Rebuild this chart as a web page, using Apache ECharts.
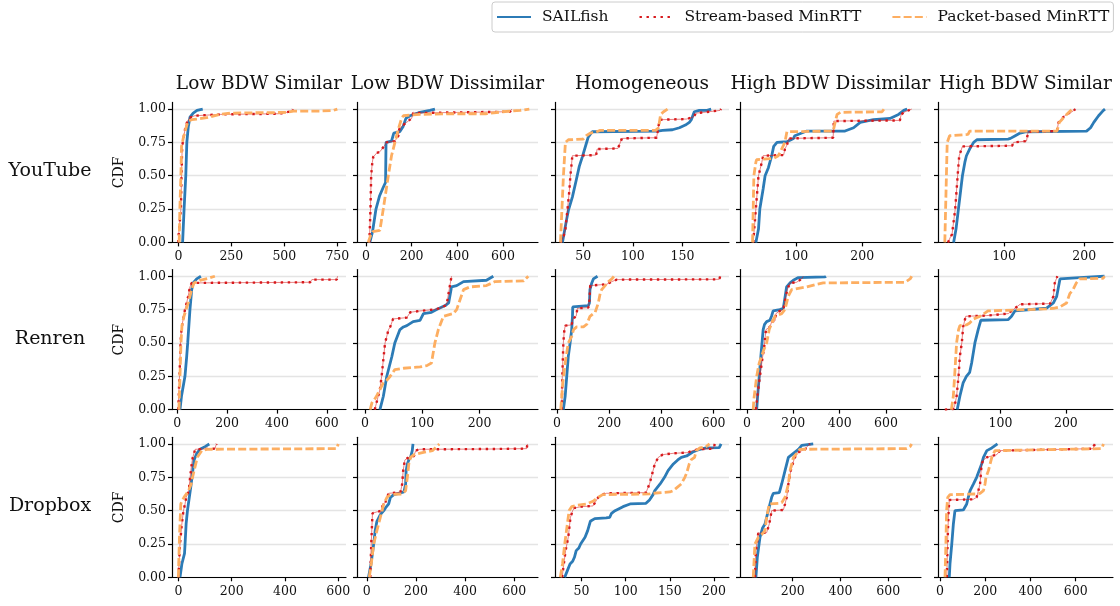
<!DOCTYPE html>
<html>
<head>
<meta charset="utf-8">
<script src="https://cdn.jsdelivr.net/npm/echarts/dist/echarts.min.js"></script>
<style>
html, body { margin: 0; padding: 0; background: #fff; }
#main { width: 1120px; height: 606px; }
</style>
</head>
<body>
<div id="main"></div>
<script>
var rowNames = ['YouTube', 'Renren', 'Dropbox'];
var colNames = ['Low BDW Similar', 'Low BDW Dissimilar', 'Homogeneous', 'High BDW Dissimilar', 'High BDW Similar'];
var seriesNames = ['SAILfish', 'Stream-based MinRTT', 'Packet-based MinRTT'];
var yTicks = [0, 0.25, 0.5, 0.75, 1.0];

// x tick labels, one list per panel
var youtubeTicks = [[0, 250, 500, 750], [0, 200, 400, 600], [50, 100, 150], [100, 200], [100, 200]];
var renrenTicks = [[0, 200, 400, 600], [0, 100, 200], [0, 200, 400, 600], [0, 200, 400, 600], [100, 200]];
var dropboxTicks = [[0, 200, 400, 600], [0, 200, 400, 600], [50, 100, 150, 200], [200, 400, 600], [0, 200, 400, 600]];

// x axis limits
var youtubeRange = [[-30, 791], [-39, 753], [21.5, 197], [15, 289], [17.5, 236]];
var renrenRange = [[-21, 677], [-14, 302], [-8, 659], [-30, 751], [4.6, 272]];
var dropboxRange = [[-24, 629], [-40, 697], [20, 217], [-20.5, 737], [-9, 765]];

// CDF curves, [value, cdf], one curve per panel
var youtubeSail = [
    [[20,0],[27,0.25],[35,0.5],[40,0.75],[47,0.87],[55,0.94],[70,0.97],[88,0.99],[115,1.0]],
    [[17,0],[29,0.08],[44,0.25],[60,0.35],[75,0.41],[86,0.45],[88,0.75],[112,0.76],[122,0.82],[148,0.83],[163,0.87],[175,0.93],[193,0.95],[236,0.975],[280,0.99],[302,1.0]],
    [[29,0],[33,0.165],[35,0.24],[39,0.34],[43,0.47],[46,0.57],[49,0.64],[53,0.74],[55,0.79],[59,0.83],[61,0.835],[125,0.835],[130,0.84],[140,0.845],[147,0.86],[153,0.88],[157,0.9],[159,0.92],[162,0.98],[167,0.99],[175,0.99],[179,1.0]],
    [[39,0],[43,0.1],[45,0.25],[50,0.4],[53,0.5],[58,0.56],[63,0.65],[66,0.72],[71,0.75],[86,0.755],[88,0.77],[96,0.78],[98,0.8],[116,0.835],[174,0.835],[187,0.86],[197,0.9],[217,0.92],[242,0.93],[255,0.96],[263,0.99],[268,1.0]],
    [[37,0],[40,0.1],[43,0.25],[46,0.4],[48,0.5],[51,0.6],[53,0.65],[57,0.7],[62,0.75],[66,0.77],[105,0.775],[108,0.78],[114,0.8],[120,0.82],[128,0.83],[203,0.835],[208,0.86],[212,0.9],[218,0.95],[224,0.99],[226,1.0]]
];
var youtubeStream = [
    [[0,0],[1,0.05],[12,0.25],[15,0.5],[18,0.72],[22,0.76],[35,0.88],[47,0.92],[60,0.94],[78,0.95],[200,0.96],[480,0.965],[482,0.98],[538,0.985],[540,1.0]],
    [[15,0],[20,0.25],[23,0.5],[28,0.6],[32,0.64],[47,0.67],[61,0.68],[79,0.72],[90,0.75],[127,0.76],[142,0.8],[146,0.85],[163,0.88],[178,0.9],[200,0.93],[207,0.97],[400,0.975],[631,0.98],[638,1.0]],
    [[27,0],[30,0.04],[32,0.1],[34,0.24],[36,0.39],[37,0.5],[38,0.57],[39,0.65],[63,0.655],[64,0.7],[85,0.705],[89,0.78],[124,0.785],[127,0.92],[154,0.925],[161,0.94],[164,0.97],[171,0.975],[188,0.99],[189,1.0]],
    [[35,0],[39,0.25],[43,0.5],[48,0.6],[50,0.65],[81,0.655],[83,0.7],[86,0.73],[89,0.78],[156,0.785],[157,0.91],[257,0.915],[259,0.96],[265,0.98],[275,1.0]],
    [[30,0],[33,0.04],[35,0.06],[39,0.25],[42,0.5],[44,0.65],[48,0.72],[110,0.725],[112,0.75],[128,0.76],[130,0.83],[166,0.835],[168,0.9],[174,0.94],[178,0.96],[185,0.98],[189,1.0]]
];
var youtubePacket = [
    [[4,0],[7,0.25],[12,0.5],[15,0.72],[23,0.78],[40,0.88],[47,0.91],[63,0.92],[86,0.925],[134,0.935],[197,0.96],[244,0.97],[511,0.975],[543,0.985],[668,0.985],[731,0.99],[750,1.0]],
    [[10,0],[20,0.05],[30,0.08],[61,0.09],[76,0.25],[98,0.5],[112,0.65],[127,0.75],[142,0.85],[156,0.93],[164,0.95],[193,0.955],[237,0.96],[383,0.965],[528,0.965],[600,0.98],[675,0.99],[715,1.0]],
    [[27,0],[30,0.5],[32,0.75],[35,0.77],[50,0.775],[53,0.8],[57,0.82],[62,0.825],[67,0.84],[123,0.84],[126,0.86],[128,0.96],[131,0.98],[135,1.0]],
    [[34,0],[36,0.5],[39,0.6],[40,0.62],[66,0.63],[73,0.65],[78,0.7],[83,0.75],[86,0.83],[156,0.835],[159,0.9],[162,0.96],[167,0.975],[230,0.98],[233,1.0]],
    [[26,0],[28,0.5],[29,0.75],[32,0.8],[55,0.81],[57,0.835],[166,0.835],[169,0.9],[172,0.92],[175,0.94],[180,0.97],[185,1.0]]
];

var renrenSail = [
    [[11,0],[17,0.1],[31,0.25],[38,0.4],[42,0.5],[51,0.75],[58,0.9],[64,0.95],[78,0.98],[95,1.0]],
    [[26,0],[32,0.1],[38,0.25],[47,0.4],[52,0.5],[61,0.6],[67,0.62],[73,0.63],[84,0.66],[96,0.67],[102,0.72],[116,0.73],[125,0.75],[140,0.78],[146,0.8],[151,0.92],[160,0.93],[172,0.96],[212,0.97],[224,1.0]],
    [[24,0],[31,0.1],[37,0.25],[43,0.4],[50,0.5],[56,0.6],[59,0.7],[60,0.77],[63,0.775],[120,0.78],[124,0.8],[126,0.9],[133,0.95],[139,0.98],[155,1.0]],
    [[42,0],[46,0.1],[53,0.25],[60,0.4],[70,0.6],[76,0.64],[85,0.66],[99,0.67],[106,0.7],[113,0.74],[142,0.75],[157,0.76],[165,0.85],[171,0.92],[186,0.95],[200,0.97],[222,0.99],[337,0.995],[341,1.0]],
    [[34,0],[38,0.1],[43,0.2],[48,0.25],[53,0.28],[56,0.35],[61,0.5],[66,0.6],[70,0.67],[112,0.675],[115,0.69],[117,0.7],[122,0.74],[125,0.755],[170,0.76],[173,0.77],[181,0.8],[186,0.85],[191,0.98],[221,0.99],[259,1.0]]
];
var renrenStream = [
    [[4,0],[6,0.1],[10,0.3],[13,0.5],[17,0.6],[21,0.65],[31,0.75],[44,0.85],[51,0.92],[58,0.95],[533,0.955],[540,0.975],[640,0.975],[643,1.0]],
    [[17,0],[20,0.05],[26,0.15],[29,0.25],[35,0.5],[41,0.6],[44,0.62],[49,0.68],[73,0.69],[79,0.73],[96,0.74],[119,0.75],[131,0.76],[140,0.78],[143,0.8],[145,0.85],[147,0.9],[151,1.0]],
    [[18,0],[20,0.25],[24,0.5],[27,0.58],[31,0.63],[56,0.635],[60,0.68],[73,0.7],[78,0.76],[120,0.765],[124,0.82],[127,0.93],[190,0.94],[210,0.96],[229,0.975],[622,0.977],[625,1.0]],
    [[39,0],[45,0.1],[56,0.25],[68,0.4],[73,0.45],[82,0.6],[99,0.62],[107,0.66],[121,0.665],[125,0.72],[142,0.74],[157,0.75],[168,0.85],[174,0.9],[186,0.95],[214,0.955],[222,0.97],[236,0.98],[243,1.0]],
    [[15,0],[28,0.005],[30,0.03],[33,0.1],[36,0.25],[38,0.4],[41,0.5],[43,0.62],[47,0.7],[79,0.705],[81,0.715],[112,0.72],[117,0.74],[120,0.75],[130,0.79],[176,0.795],[178,0.8],[181,0.85],[183,0.95],[187,1.0]]
];
var renrenPacket = [
    [[7,0],[11,0.25],[15,0.5],[19,0.63],[27,0.7],[44,0.8],[58,0.9],[67,0.95],[91,0.97],[125,0.985],[151,1.0]],
    [[9,0],[12,0.05],[17,0.08],[20,0.1],[32,0.2],[38,0.22],[44,0.25],[52,0.3],[67,0.31],[96,0.32],[108,0.33],[116,0.35],[122,0.5],[128,0.6],[137,0.7],[154,0.72],[160,0.75],[172,0.9],[183,0.92],[212,0.93],[227,0.96],[277,0.965],[285,1.0]],
    [[14,0],[22,0.2],[31,0.35],[43,0.5],[56,0.55],[63,0.6],[75,0.62],[101,0.62],[114,0.64],[126,0.7],[146,0.73],[158,0.8],[165,0.87],[171,0.9],[184,0.93],[197,0.96],[210,0.98],[218,1.0]],
    [[27,0],[30,0.08],[35,0.15],[42,0.25],[53,0.35],[63,0.4],[73,0.45],[85,0.5],[96,0.6],[107,0.65],[121,0.7],[135,0.71],[150,0.72],[164,0.75],[178,0.85],[193,0.9],[222,0.91],[258,0.92],[301,0.94],[329,0.95],[682,0.955],[689,0.96],[704,0.98],[711,1.0]],
    [[25,0],[28,0.1],[30,0.25],[33,0.5],[36,0.6],[38,0.63],[48,0.635],[53,0.65],[59,0.68],[69,0.7],[81,0.74],[84,0.75],[170,0.755],[181,0.76],[191,0.77],[201,0.8],[206,0.87],[211,0.9],[216,0.95],[221,0.98],[257,0.985],[259,1.0]]
];

var dropboxSail = [
    [[6,0],[13,0.1],[23,0.18],[25,0.25],[29,0.4],[34,0.5],[41,0.6],[48,0.7],[54,0.8],[59,0.88],[63,0.9],[69,0.93],[81,0.96],[100,0.98],[116,1.0]],
    [[7,0],[17,0.1],[28,0.25],[34,0.35],[41,0.42],[55,0.47],[69,0.5],[76,0.52],[89,0.55],[96,0.6],[110,0.62],[130,0.63],[151,0.64],[158,0.7],[160,0.8],[165,0.85],[171,0.88],[178,0.9],[185,0.95],[188,1.0]],
    [[31,0],[34,0.05],[37,0.1],[40,0.12],[42,0.15],[44,0.2],[47,0.22],[49,0.25],[54,0.3],[57,0.35],[60,0.42],[65,0.44],[78,0.445],[82,0.45],[84,0.48],[88,0.5],[97,0.53],[105,0.55],[123,0.555],[127,0.58],[131,0.62],[133,0.65],[139,0.7],[144,0.75],[148,0.8],[154,0.85],[159,0.88],[163,0.9],[169,0.91],[176,0.94],[184,0.96],[191,0.97],[206,0.972],[208,1.0]],
    [[46,0],[52,0.15],[63,0.3],[74,0.37],[84,0.4],[98,0.5],[112,0.6],[119,0.63],[144,0.635],[154,0.7],[168,0.8],[182,0.9],[203,0.93],[224,0.96],[238,0.99],[286,1.0]],
    [[41,0],[44,0.1],[52,0.25],[59,0.4],[66,0.5],[103,0.505],[111,0.52],[118,0.55],[125,0.6],[133,0.65],[148,0.7],[162,0.75],[184,0.85],[192,0.9],[207,0.95],[229,0.97],[254,1.0]]
];
var dropboxStream = [
    [[0,0],[6,0.25],[13,0.4],[19,0.5],[25,0.55],[29,0.6],[34,0.62],[39,0.65],[44,0.75],[50,0.85],[54,0.9],[63,0.96],[138,0.965],[140,0.985],[144,1.0]],
    [[14,0],[18,0.25],[23,0.48],[40,0.49],[62,0.5],[64,0.55],[76,0.56],[82,0.6],[89,0.63],[123,0.635],[137,0.64],[144,0.7],[148,0.8],[155,0.88],[171,0.9],[192,0.91],[199,0.95],[212,0.96],[500,0.962],[651,0.965],[654,1.0]],
    [[28,0],[30,0.1],[32,0.2],[35,0.3],[37.5,0.45],[40,0.5],[42,0.52],[50,0.53],[63,0.535],[65,0.55],[69,0.6],[73,0.62],[78,0.63],[123,0.635],[125,0.65],[127,0.7],[129,0.75],[131,0.8],[133,0.85],[137,0.9],[142,0.92],[154,0.93],[169,0.935],[172,0.94],[176,0.95],[182,0.96],[199,0.965],[200,0.98],[201,1.0]],
    [[42,0],[46,0.2],[56,0.33],[91,0.335],[102,0.4],[112,0.5],[161,0.505],[168,0.55],[175,0.6],[182,0.7],[192,0.8],[205,0.88],[217,0.93],[238,0.95],[252,0.96],[265,0.99],[272,1.0]],
    [[30,0],[34,0.3],[38,0.5],[41,0.58],[147,0.585],[162,0.6],[177,0.7],[184,0.85],[192,0.88],[207,0.9],[251,0.92],[265,0.95],[273,0.96],[678,0.965],[680,0.985],[686,1.0]]
];
var dropboxPacket = [
    [[0,0],[4,0.3],[9,0.55],[13,0.57],[21,0.6],[28,0.62],[38,0.65],[48,0.7],[53,0.75],[59,0.8],[71,0.9],[88,0.95],[106,0.96],[594,0.965],[596,0.98],[600,1.0]],
    [[10,0],[18,0.1],[28,0.25],[41,0.35],[48,0.4],[55,0.45],[62,0.5],[69,0.55],[82,0.6],[96,0.62],[144,0.625],[151,0.63],[158,0.65],[165,0.75],[171,0.85],[178,0.9],[192,0.92],[213,0.93],[240,0.94],[267,0.95],[274,0.96],[295,1.0]],
    [[26,0],[28.5,0.1],[31,0.25],[34,0.4],[36,0.5],[39,0.53],[44,0.54],[56,0.55],[63,0.57],[69,0.6],[74,0.62],[127,0.625],[131,0.63],[150,0.64],[154,0.65],[163,0.7],[167,0.75],[169,0.78],[172,0.85],[174,0.88],[178,0.9],[180,0.95],[184,0.97],[191,0.98],[195,1.0]],
    [[35,0],[42,0.25],[56,0.3],[70,0.32],[84,0.35],[91,0.45],[102,0.55],[140,0.555],[154,0.56],[168,0.6],[182,0.7],[189,0.8],[203,0.9],[217,0.93],[230,0.96],[677,0.965],[691,0.98],[698,1.0]],
    [[22,0],[26,0.25],[29,0.5],[34,0.6],[44,0.62],[162,0.625],[177,0.63],[192,0.65],[199,0.7],[203,0.75],[214,0.8],[229,0.9],[243,0.95],[251,0.96],[715,0.965],[720,0.98],[723,1.0]]
];

var panelTicks = [youtubeTicks, renrenTicks, dropboxTicks];
var panelRange = [youtubeRange, renrenRange, dropboxRange];
var panelData = [
    [youtubeSail, youtubeStream, youtubePacket],
    [renrenSail, renrenStream, renrenPacket],
    [dropboxSail, dropboxStream, dropboxPacket]
];

// layout in pixels
var colLeft = [172, 357, 555, 740, 938];
var colWidth = [174, 181, 174, 181, 175];
var rowTop = [102.4, 269.6, 437.3];
var plotH = 140;
var font = 'DejaVu Serif';
var colors = ['#2c7bb6', '#d7191c', '#fdae61'];
var lineStyles = [
    { color: colors[0], width: 2.8, type: 'solid' },
    { color: colors[1], width: 2.4, type: [2.4, 4.6] },
    { color: colors[2], width: 2.8, type: [8, 3.2] }
];

var grids = [], xAxes = [], yAxes = [], series = [], texts = [];

for (var r = 0; r < 3; r++) {
    for (var c = 0; c < 5; c++) {
        var idx = r * 5 + c;
        grids.push({ left: colLeft[c], top: rowTop[r], width: colWidth[c], height: plotH });
        xAxes.push({
            gridIndex: idx,
            type: 'value',
            min: panelRange[r][c][0],
            max: panelRange[r][c][1],
            axisLine: { onZero: false, lineStyle: { color: '#000', width: 1.2 } },
            axisTick: { length: 4, customValues: panelTicks[r][c], lineStyle: { color: '#000', width: 1.2 } },
            axisLabel: { customValues: panelTicks[r][c], fontFamily: font, fontSize: 12.5, color: '#111', margin: 8 },
            splitLine: { show: false }
        });
        yAxes.push({
            gridIndex: idx,
            type: 'value',
            min: 0,
            max: 1.05,
            name: c === 0 ? 'CDF' : '',
            nameLocation: 'middle',
            nameGap: 46,
            nameTextStyle: { fontFamily: font, fontSize: 14, color: '#111' },
            axisLine: { onZero: false, lineStyle: { color: '#000', width: 1.2 } },
            axisTick: { length: 4, customValues: yTicks, lineStyle: { color: '#000', width: 1.2 } },
            axisLabel: {
                show: c === 0,
                customValues: yTicks,
                fontFamily: font, fontSize: 12.5, color: '#111', margin: 6,
                formatter: function (v) { return v.toFixed(2); }
            },
            splitLine: { show: true, lineStyle: { color: '#e4e4e4', width: 1.4 } }
        });
        for (var s = 0; s < 3; s++) {
            if (s === 1) {
                // thin line under the dotted one
                series.push({
                    name: 'stream-base',
                    type: 'line',
                    xAxisIndex: idx, yAxisIndex: idx,
                    data: panelData[r][s][c],
                    symbol: 'none',
                    silent: true,
                    itemStyle: { color: colors[1] },
                    lineStyle: { color: colors[1], width: 1, opacity: 0.55 }
                });
            }
            series.push({
                name: seriesNames[s],
                type: 'line',
                xAxisIndex: idx, yAxisIndex: idx,
                data: panelData[r][s][c],
                symbol: 'none',
                silent: true,
                itemStyle: { color: colors[s] },
                lineStyle: lineStyles[s]
            });
        }
    }
}

// column titles
for (var c = 0; c < 5; c++) {
    texts.push({
        type: 'text', x: colLeft[c] + colWidth[c] / 2, y: 84,
        style: { text: colNames[c], fontFamily: font, fontSize: 18.5, fill: '#111', align: 'center', verticalAlign: 'middle' }
    });
}
// row labels
for (var r = 0; r < 3; r++) {
    texts.push({
        type: 'text', x: 50, y: rowTop[r] + plotH * 0.5 - 1,
        style: { text: rowNames[r], fontFamily: font, fontSize: 19, fill: '#111', align: 'center', verticalAlign: 'middle' }
    });
}

var chart = echarts.init(document.getElementById('main'));
chart.setOption({
    animation: false,
    backgroundColor: '#fff',
    legend: {
        data: seriesNames,
        left: 492, top: 2,
        padding: [7, 4],
        itemGap: 30,
        itemWidth: 34, itemHeight: 14,
        itemStyle: { opacity: 0 },
        borderColor: '#cccccc', borderWidth: 1, borderRadius: 3,
        textStyle: { fontFamily: font, fontSize: 15.5, color: '#111', padding: [0, 0, 0, 6] }
    },
    grid: grids,
    xAxis: xAxes,
    yAxis: yAxes,
    series: series,
    graphic: texts
});
</script>
</body>
</html>
